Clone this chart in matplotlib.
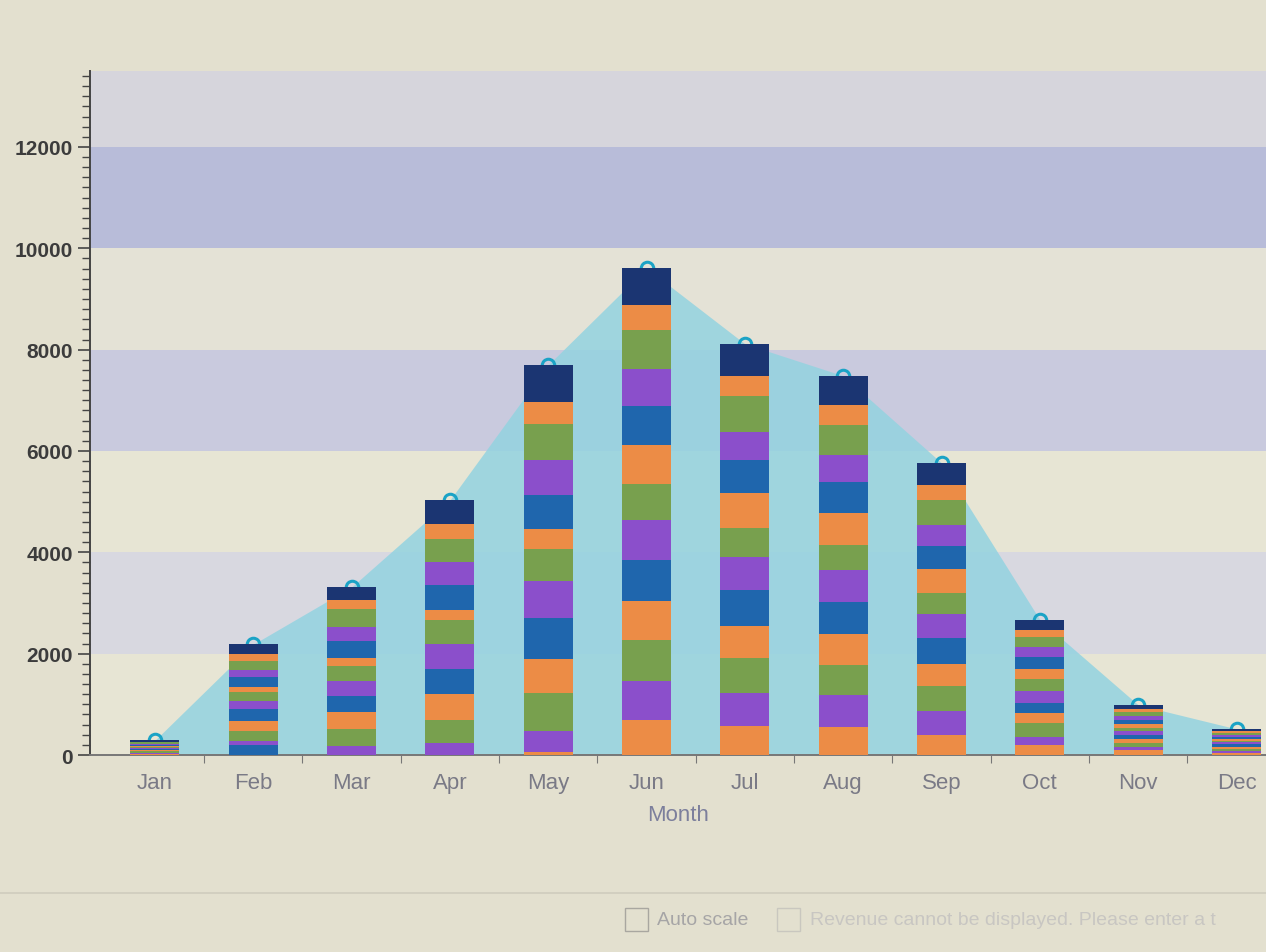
import numpy as np
import matplotlib
matplotlib.use("Agg")
from matplotlib import pyplot as plt
from matplotlib.patches import Rectangle
from matplotlib.ticker import MultipleLocator, FixedLocator

plt.rcParams['font.family'] = ['Liberation Sans', 'DejaVu Sans']

# month categories
months = ['Jan', 'Feb', 'Mar', 'Apr', 'May', 'Jun', 'Jul', 'Aug', 'Sep',
          'Oct', 'Nov', 'Dec']

# stacked layers, bottom to top
s01 = [25, 0, 0, 0, 65, 700, 580, 560, 400, 200, 90, 45]
s02 = [0, 200, 0, 0, 0, 0, 0, 0, 0, 0, 0, 0]
s03 = [20, 70, 185, 235, 400, 770, 635, 620, 465, 165, 70, 40]
s04 = [25, 200, 335, 465, 765, 800, 700, 600, 500, 265, 80, 40]
s05 = [20, 200, 335, 500, 665, 770, 635, 600, 435, 200, 75, 40]
s06 = [25, 235, 300, 500, 800, 800, 700, 635, 500, 200, 80, 45]
s07 = [25, 170, 300, 500, 735, 800, 665, 635, 480, 235, 75, 40]
s08 = [20, 170, 300, 465, 635, 700, 565, 500, 420, 235, 70, 35]
s09 = [25, 100, 165, 200, 400, 770, 700, 635, 465, 200, 80, 40]
s10 = [20, 200, 335, 500, 665, 770, 635, 600, 465, 235, 75, 40]
s11 = [20, 135, 265, 435, 700, 730, 565, 535, 400, 200, 70, 35]
s12 = [25, 170, 365, 465, 700, 770, 700, 600, 500, 200, 80, 40]
s13 = [15, 135, 165, 300, 435, 500, 400, 380, 300, 135, 55, 30]
s14 = [25, 200, 265, 465, 735, 730, 635, 585, 435, 200, 90, 45]
layers = [s01, s02, s03, s04, s05, s06, s07, s08, s09, s10, s11, s12, s13, s14]

# y axis ticks
y_ticks = [0, 2000, 4000, 6000, 8000, 10000, 12000]

ORANGE = '#ec8c46'
BLUE = '#1f66ad'
PURPLE = '#8b4fcb'
GREEN = '#78a04e'
NAVY = '#1b3572'
layer_colors = [ORANGE, BLUE, PURPLE, GREEN] * 3 + [ORANGE, NAVY]

fig = plt.figure(figsize=(12.66, 9.53), dpi=100, facecolor='#e3e0cf')
ax = fig.add_axes([0.0711, 0.2067, 0.9289, 0.7178])
ax.set_facecolor('#e7e5d4')

# alternating plot bands
band_cols = ['#e7e5d4', '#d8d8e0', '#e7e5d4', '#c9cade', '#e4e2d6',
             '#b8bcd9', '#d6d5dc']
for i, c in enumerate(band_cols):
    ax.axhspan(i * 2000, (i + 1) * 2000, color=c, zorder=0, lw=0)
# endfor #

x = np.arange(len(months))
totals = np.sum(np.array(layers), axis=0)

# area of monthly totals behind the bars
ax.fill_between(x, 0, totals, color='#93d3e0', alpha=0.85, lw=0, zorder=1)
ax.plot(x, totals, 'o', ms=9, mfc='none', mec='#1ba3c6', mew=2.2, zorder=2)

bottom = np.zeros(len(months))
for vals, col in zip(layers, layer_colors):
    ax.bar(x, vals, 0.5, bottom=bottom, color=col, lw=0, zorder=3)
    bottom = bottom + np.array(vals)
# endfor #

ax.set_xlim(-0.66, 11.3)
ax.set_ylim(0, 13500)

ax.yaxis.set_major_locator(FixedLocator(y_ticks))
ax.yaxis.set_minor_locator(MultipleLocator(200))
ax.set_yticklabels([str(t) for t in y_ticks], fontsize=15, fontweight='bold',
                   color='#3c3c3c')
ax.tick_params(axis='y', which='major', length=9, width=1.2, color='#444')
ax.tick_params(axis='y', which='minor', length=6, width=1.0, color='#444')

ax.xaxis.set_major_locator(FixedLocator(x[:-1] + 0.5))
ax.xaxis.set_minor_locator(FixedLocator(x))
ax.set_xticklabels([], minor=False)
ax.set_xticklabels(months, minor=True, fontsize=16, color='#7a7a86')
ax.tick_params(axis='x', which='major', length=6, color='#777', direction='out')
ax.tick_params(axis='x', which='minor', length=0, pad=12)
ax.set_xlabel('Month', fontsize=16, color='#7c7f9c', labelpad=8)

for side in ['top', 'right']:
    ax.spines[side].set_visible(False)
# endfor #
ax.spines['left'].set_color('#444')
ax.spines['left'].set_linewidth(1.4)
ax.spines['bottom'].set_color('#777')
ax.spines['bottom'].set_linewidth(1.4)

# control strip under the chart
fig.add_artist(plt.Line2D([0.0, 1.0], [0.062, 0.062], color='#cfccbd', lw=1.2))
fig.add_artist(Rectangle((0.494, 0.022), 0.018, 0.024, fill=False,
                         ec='#a9a7a0', lw=1.0))
fig.text(0.519, 0.034, 'Auto scale', fontsize=14, color='#a6a5a6',
         va='center')
fig.add_artist(Rectangle((0.614, 0.022), 0.018, 0.024, fill=False,
                         ec='#c9c7bf', lw=1.0))
fig.text(0.64, 0.034, 'Revenue cannot be displayed. Please enter a t',
         fontsize=14, color='#c8c6c2', va='center')

fig.savefig('out.png', dpi=100, facecolor=fig.get_facecolor())
